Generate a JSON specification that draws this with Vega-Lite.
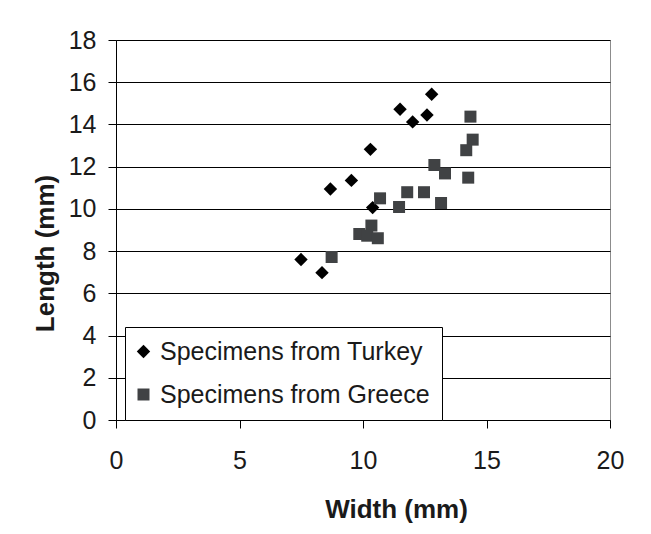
{
  "$schema": "https://vega.github.io/schema/vega-lite/v6.json",
  "autosize": {"type": "none"},
  "padding": {"left": 116, "top": 40, "right": 41, "bottom": 114},
  "width": 494,
  "height": 380,
  "background": "white",
  "config": {
    "font": "Liberation Sans",
    "view": {"stroke": "#8c8c8c", "strokeWidth": 1},
    "axis": {
      "labelFont": "Liberation Sans",
      "labelFontSize": 25,
      "labelColor": "#1a1a1a",
      "titleFont": "Liberation Sans",
      "titleFontSize": 26,
      "titleFontWeight": "bold",
      "titleColor": "#1a1a1a",
      "domainColor": "#000000",
      "domainWidth": 1,
      "tickColor": "#000000",
      "tickSize": 8,
      "tickWidth": 1
    }
  },
  "data": {
    "values": [
      {"series": "Specimens from Turkey", "width": 12.78, "length": 15.43},
      {"series": "Specimens from Turkey", "width": 11.5, "length": 14.72},
      {"series": "Specimens from Turkey", "width": 12.59, "length": 14.45},
      {"series": "Specimens from Turkey", "width": 12.01, "length": 14.12},
      {"series": "Specimens from Turkey", "width": 10.3, "length": 12.82},
      {"series": "Specimens from Turkey", "width": 9.53, "length": 11.35},
      {"series": "Specimens from Turkey", "width": 8.68, "length": 10.94},
      {"series": "Specimens from Turkey", "width": 10.39, "length": 10.06},
      {"series": "Specimens from Turkey", "width": 7.49, "length": 7.6},
      {"series": "Specimens from Turkey", "width": 8.34, "length": 6.98},
      {"series": "Specimens from Greece", "width": 14.35, "length": 14.37},
      {"series": "Specimens from Greece", "width": 14.44, "length": 13.28},
      {"series": "Specimens from Greece", "width": 14.18, "length": 12.78},
      {"series": "Specimens from Greece", "width": 12.89, "length": 12.08},
      {"series": "Specimens from Greece", "width": 13.32, "length": 11.68},
      {"series": "Specimens from Greece", "width": 14.26, "length": 11.48},
      {"series": "Specimens from Greece", "width": 10.69, "length": 10.5},
      {"series": "Specimens from Greece", "width": 11.79, "length": 10.79},
      {"series": "Specimens from Greece", "width": 12.47, "length": 10.79},
      {"series": "Specimens from Greece", "width": 11.46, "length": 10.09},
      {"series": "Specimens from Greece", "width": 13.16, "length": 10.28},
      {"series": "Specimens from Greece", "width": 10.34, "length": 9.21},
      {"series": "Specimens from Greece", "width": 9.85, "length": 8.81},
      {"series": "Specimens from Greece", "width": 10.17, "length": 8.73},
      {"series": "Specimens from Greece", "width": 10.6, "length": 8.61},
      {"series": "Specimens from Greece", "width": 8.73, "length": 7.72}
    ]
  },
  "mark": {"type": "point", "filled": true, "opacity": 1},
  "encoding": {
    "x": {
      "field": "width",
      "type": "quantitative",
      "scale": {"domain": [0, 20], "nice": false, "zero": true},
      "axis": {
        "values": [0, 5, 10, 15, 20],
        "grid": false,
        "labelPadding": 20,
        "labelFlush": false,
        "title": "Width (mm)",
        "titleX": 280,
        "titleY": 97,
        "titleBaseline": "alphabetic",
        "titleAlign": "center",
        "titleAnchor": null
      }
    },
    "y": {
      "field": "length",
      "type": "quantitative",
      "scale": {"domain": [0, 18], "nice": false},
      "axis": {
        "values": [0, 2, 4, 6, 8, 10, 12, 14, 16, 18],
        "grid": true,
        "gridColor": "#000000",
        "gridWidth": 1,
        "gridOpacity": 1,
        "labelPadding": 12,
        "labelFlush": false,
        "title": "Length (mm)",
        "titleAngle": -90,
        "titleX": -63,
        "titleY": 213,
        "titleBaseline": "alphabetic",
        "titleAlign": "center",
        "titleAnchor": null
      }
    },
    "color": {
      "field": "series",
      "type": "nominal",
      "scale": {
        "domain": ["Specimens from Turkey", "Specimens from Greece"],
        "range": ["#000000", "#404244"]
      },
      "legend": {
        "title": null,
        "orient": "none",
        "legendX": 9,
        "legendY": 287,
        "direction": "vertical",
        "fillColor": "white",
        "strokeColor": "#000000",
        "padding": 12,
        "labelFont": "Liberation Sans",
        "labelFontSize": 25,
        "labelColor": "#1a1a1a",
        "labelLimit": 0,
        "labelOffset": 4,
        "symbolOffset": -6,
        "rowPadding": 17,
        "symbolSize": 120,
        "symbolStrokeWidth": 0,
        "symbolOpacity": 1
      }
    },
    "shape": {
      "field": "series",
      "type": "nominal",
      "scale": {
        "domain": ["Specimens from Turkey", "Specimens from Greece"],
        "range": ["diamond", "square"]
      }
    },
    "size": {
      "field": "series",
      "type": "nominal",
      "scale": {
        "domain": ["Specimens from Turkey", "Specimens from Greece"],
        "range": [180, 144]
      },
      "legend": null
    }
  }
}
